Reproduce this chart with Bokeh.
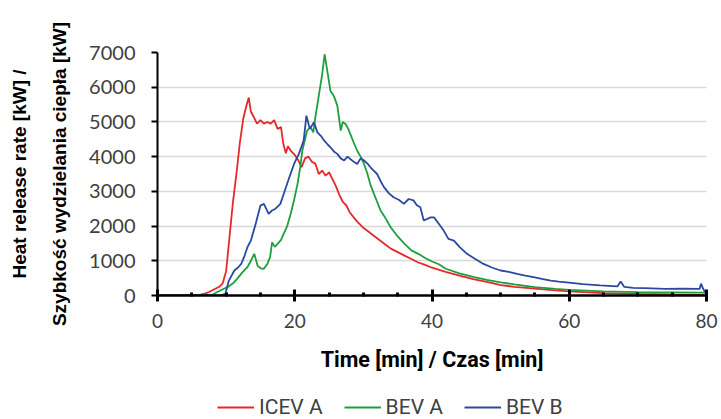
from bokeh.plotting import figure
from bokeh.layouts import column
from bokeh.models import Range1d, FixedTicker, Legend, LegendItem, Title
from bokeh.embed import file_html
from bokeh.resources import INLINE

# ---------------- data ----------------
icev_t = [0, 2, 4, 6, 7, 7.5, 8, 8.5, 9, 9.5, 10, 10.5, 11, 11.5, 12, 12.5, 13, 13.3, 13.6,
          14, 14.5, 15, 15.5, 16, 16.5, 17, 17.5, 18, 18.3, 18.7, 19, 19.5, 20, 20.5, 21, 21.5,
          22, 22.5, 23, 23.5, 24, 24.5, 25, 25.5, 26, 26.5, 27, 27.5, 28, 29, 30, 31, 32, 33,
          34, 35, 36, 37, 38, 39, 40, 42, 44, 46, 48, 50, 52, 55, 58, 60, 65, 70, 75, 80]
icev_v = [0, 0, 0, 10, 60, 100, 150, 200, 250, 350, 700, 1700, 2700, 3500, 4400, 5100, 5500,
          5700, 5300, 5150, 4950, 5050, 4950, 5000, 4950, 5050, 4800, 4850, 4400, 4100, 4300,
          4150, 4050, 3900, 3700, 3950, 4000, 3850, 3800, 3500, 3600, 3450, 3550, 3350, 3150,
          2900, 2700, 2600, 2400, 2150, 1950, 1800, 1650, 1500, 1350, 1250, 1150, 1050, 950,
          880, 800, 680, 570, 470, 390, 300, 250, 200, 150, 120, 70, 45, 30, 20]

beva_t = [0, 4, 6, 8, 8.7, 9.5, 10.2, 11, 11.6, 12.3, 13.1, 13.6, 14.1, 14.6, 15.1, 15.5, 16,
          16.4, 16.7, 17.1, 17.5, 18, 18.4, 18.9, 19.4, 19.9, 20.4, 20.8, 21.1, 21.5, 21.8,
          22.3, 22.7, 23, 23.5, 24, 24.35, 24.8, 25.2, 25.7, 26.2, 26.7, 27, 27.4, 27.8, 28.1,
          28.6, 29.1, 29.6, 30.1, 30.6, 31, 31.5, 32, 32.5, 33, 34, 35, 36, 37, 38, 39, 40, 41,
          42, 44, 46, 48, 50, 52, 55, 58, 60, 65, 70, 75, 80]
beva_v = [0, 0, 0, 20, 100, 180, 240, 350, 480, 650, 815, 1000, 1200, 850, 780, 770, 910,
          1100, 1530, 1400, 1490, 1600, 1780, 2000, 2350, 2750, 3210, 3700, 4170, 4500, 4750,
          4850, 4700, 5130, 5750, 6380, 6950, 6400, 5900, 5750, 5470, 4750, 5000, 4940, 4800,
          4650, 4400, 4170, 4000, 3790, 3500, 3210, 2950, 2700, 2450, 2300, 1960, 1700, 1490,
          1300, 1200, 1080, 980, 900, 770, 640, 540, 450, 380, 320, 240, 190, 160, 120, 100,
          90, 80]

bevb_t = [0, 4, 6, 8, 9, 9.9, 10.4, 11.2, 11.7, 12.2, 12.7, 13.1, 13.6, 14.3, 15, 15.5, 16.2,
          16.7, 17.2, 17.9, 18.4, 19.2, 19.9, 20.6, 21.3, 21.7, 22.2, 22.8, 23.3, 23.8, 24.3,
          24.8, 25.2, 25.7, 26.2, 26.7, 27.2, 27.7, 28.1, 28.6, 29.1, 29.6, 30.1, 30.6, 31,
          31.5, 32, 32.5, 33, 33.7, 34.4, 35.2, 35.9, 36.6, 37.3, 37.8, 38.3, 38.8, 39.8, 40.3,
          41.2, 41.7, 42.4, 43.2, 44, 45.1, 46.3, 47.5, 48.8, 50, 51.2, 52.4, 53.6, 54.8, 56,
          57.3, 58.5, 59.6, 62, 64.5, 67, 67.5, 68, 69.3, 71, 74, 76.5, 79, 79.2, 79.5, 80]
bevb_v = [0, 0, 0, 0, 0, 50, 430, 720, 800, 910, 1150, 1390, 1580, 2060, 2590, 2640, 2350,
          2450, 2500, 2640, 2930, 3400, 3790, 4080, 4460, 5180, 4800, 4990, 4700, 4600, 4460,
          4350, 4270, 4150, 4080, 3950, 3890, 4000, 3930, 3850, 3790, 3950, 3890, 3800, 3700,
          3600, 3500, 3300, 3120, 2950, 2830, 2750, 2640, 2780, 2740, 2600, 2540, 2160, 2250,
          2250, 2010, 1870, 1630, 1580, 1400, 1200, 1050, 910, 800, 720, 680, 620, 570, 530,
          480, 430, 400, 380, 330, 290, 260, 400, 250, 220, 210, 190, 195, 190, 340, 200, 30]

series_names = ["ICEV A", "BEV A", "BEV B"]
series_colors = ["#e8272a", "#1e9e3e", "#2b4a9f"]

x_ticks = [0, 20, 40, 60, 80]
x_minor = [5, 10, 15, 25, 30, 35, 45, 50, 55, 65, 70, 75]
y_ticks = [0, 1000, 2000, 3000, 4000, 5000, 6000, 7000]

x_title = "Time [min] / Czas [min]"
y_title_1 = "Heat release rate [kW] /"
y_title_2 = "Szybkość wydzielania ciepła [kW]"

# ---------------- main figure ----------------
W = 721
p = figure(width=W, height=385, output_backend="svg", toolbar_location=None,
           x_range=Range1d(0, 80), y_range=Range1d(0, 7000),
           min_border_left=157, min_border_right=15, min_border_top=52, min_border_bottom=90)
p.outline_line_color = None

p.xgrid.visible = False
p.ygrid.grid_line_color = "#d9d9d9"
p.ygrid.grid_line_width = 1.5
p.ygrid.ticker = FixedTicker(ticks=y_ticks[1:])

tick_font = "Lato"
xa = p.xaxis[0]
xa.ticker = FixedTicker(ticks=x_ticks, minor_ticks=x_minor)
xa.axis_line_color = "black"
xa.axis_line_width = 2.5
xa.major_tick_line_color = "black"
xa.major_tick_line_width = 3
xa.major_tick_in = 6
xa.major_tick_out = 6
xa.minor_tick_line_color = "black"
xa.minor_tick_line_width = 3
xa.minor_tick_in = 3
xa.minor_tick_out = 1
xa.major_label_text_font = tick_font
xa.major_label_text_font_size = "19px"
xa.major_label_text_color = "#404040"
xa.major_label_standoff = 12
xa.axis_label = x_title
xa.axis_label_text_font = "Roboto"
xa.axis_label_text_font_style = "bold"
xa.axis_label_text_font_size = "21.5px"
xa.axis_label_text_color = "black"
xa.axis_label_standoff = 16

ya = p.yaxis[0]
ya.ticker = FixedTicker(ticks=y_ticks)
ya.axis_line_color = "black"
ya.axis_line_width = 2
ya.major_tick_line_color = "black"
ya.major_tick_line_width = 2
ya.major_tick_in = 0
ya.major_tick_out = 6
ya.minor_tick_line_color = None
ya.major_label_text_font = tick_font
ya.major_label_text_font_size = "20px"
ya.major_label_text_color = "#404040"
ya.major_label_standoff = 16

# two-line y title, as rotated side titles (line 2 is nearest the axis)
for txt, st in [(y_title_2, 33), (y_title_1, 1)]:
    p.add_layout(Title(text=txt, align="center", text_font="Liberation Sans",
                       text_font_style="bold", text_font_size="19px",
                       text_color="black", standoff=st, offset=-8), "left")

renderers = []
for (t, v), color in zip([(icev_t, icev_v), (beva_t, beva_v), (bevb_t, bevb_v)], series_colors):
    renderers.append(p.line(t, v, line_color=color, line_width=1.8))

# ---------------- legend strip ----------------
q = figure(width=W, height=34, output_backend="svg", toolbar_location=None,
           x_axis_type=None, y_axis_type=None, x_range=Range1d(0, 1), y_range=Range1d(0, 1),
           min_border=0)
q.outline_line_color = None
q.grid.visible = False
dummy = [q.line([-5, -4], [-5, -5], line_color=c, line_width=2) for c in series_colors]
legend = Legend(items=[LegendItem(label=n, renderers=[r]) for n, r in zip(series_names, dummy)],
                orientation="horizontal", location=(60, 0),
                border_line_color=None, background_fill_alpha=0,
                label_text_font="Roboto", label_text_font_size="21px",
                label_text_color="#404040", glyph_width=37, glyph_height=24, label_height=24,
                label_standoff=5, spacing=21, padding=0, margin=0)
q.add_layout(legend, "center")

open("out.html", "w").write(file_html(column(p, q, spacing=0), INLINE))
